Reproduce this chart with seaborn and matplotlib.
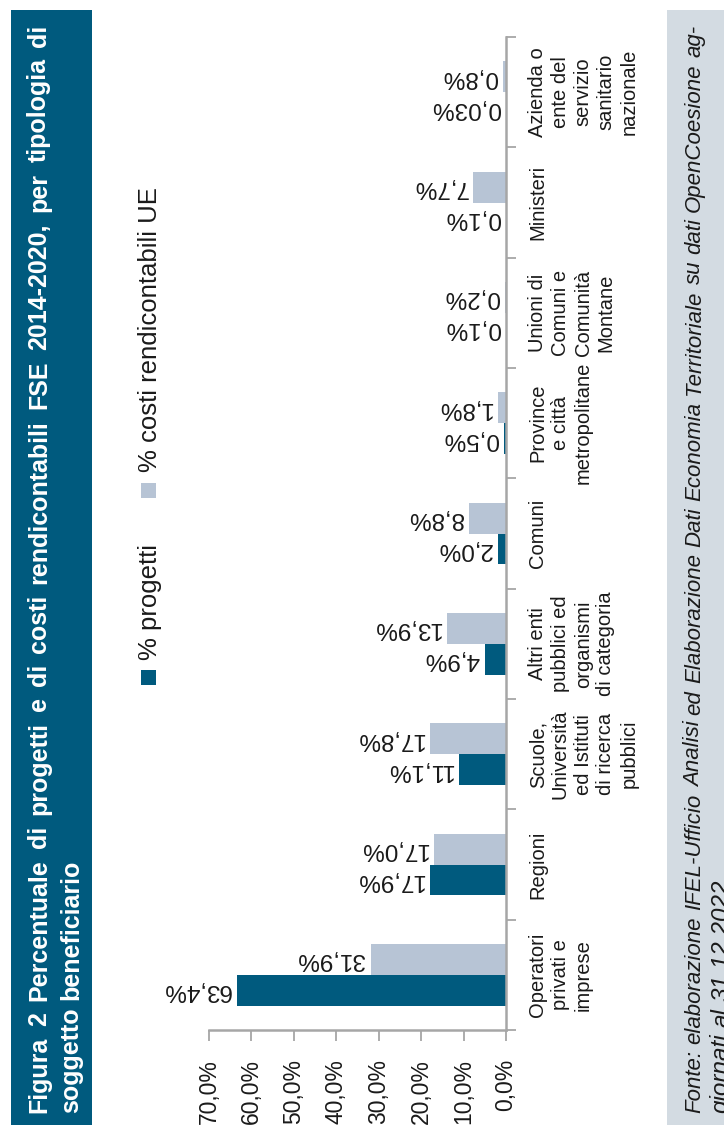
import matplotlib
matplotlib.use("Agg")
import matplotlib.pyplot as plt
import seaborn as sns
import pandas as pd
import numpy as np
from matplotlib.patches import Rectangle

# ---------------- data ----------------
categories = [
    "Operatori\nprivati e\nimprese",
    "Regioni",
    "Scuole,\nUniversità\ned Istituti\ndi ricerca\npubblici",
    "Altri enti\npubblici ed\norganismi\ndi categoria",
    "Comuni",
    "Province\ne città\nmetropolitane",
    "Unioni di\nComuni e\nComunità\nMontane",
    "Ministeri",
    "Azienda o\nente del\nservizio\nsanitario\nnazionale",
]
progetti = [63.4, 17.9, 11.1, 4.9, 2.0, 0.5, 0.1, 0.1, 0.03]
costi = [31.9, 17.0, 17.8, 13.9, 8.8, 1.8, 0.2, 7.7, 0.8]
progetti_labels = ["63,4%", "17,9%", "11,1%", "4,9%", "2,0%", "0,5%", "0,1%", "0,1%", "0,03%"]
costi_labels = ["31,9%", "17,0%", "17,8%", "13,9%", "8,8%", "1,8%", "0,2%", "7,7%", "0,8%"]
series_names = ["% progetti", "% costi rendicontabili UE"]
value_ticks = [0, 10, 20, 30, 40, 50, 60, 70]
value_tick_labels = ["0,0%", "10,0%", "20,0%", "30,0%", "40,0%", "50,0%", "60,0%", "70,0%"]

title_line1 = "Figura 2 Percentuale di progetti e di costi rendicontabili FSE 2014-2020, per tipologia di"
title_line2 = "soggetto beneficiario"
source_line1 = "Fonte: elaborazione IFEL-Ufficio Analisi ed Elaborazione Dati Economia Territoriale su dati OpenCoesione ag-"
source_line2 = "giornati al 31.12.2022"

# ---------------- style ----------------
DARK = "#005a7e"
LIGHT = "#b7c4d5"
FOOT_BG = "#d3dbe2"
GREY = "#a6a6a6"

sns.set_style("white")
plt.rcParams["font.family"] = ["Liberation Sans", "DejaVu Sans"]

W, H = 724, 1125
fig = plt.figure(figsize=(W / 100, H / 100), dpi=100)

def fx(px):
    return px / W

def fy(py):
    return 1 - py / H

# background strips
fig.patches.append(Rectangle((fx(11), 0), fx(92) - fx(11), fy(10), transform=fig.transFigure,
                             facecolor=DARK, edgecolor="none", zorder=0))
fig.patches.append(Rectangle((fx(667), 0), 1 - fx(667), fy(10), transform=fig.transFigure,
                             facecolor=FOOT_BG, edgecolor="none", zorder=0))

# ---------------- chart ----------------
ax = fig.add_axes([fx(209), fy(1030), fx(506) - fx(209), fy(37) - fy(1030)])

df = pd.DataFrame({
    "categoria": categories * 2,
    "valore": progetti + costi,
    "serie": [series_names[0]] * len(categories) + [series_names[1]] * len(categories),
})

sns.barplot(data=df, x="valore", y="categoria", hue="serie", hue_order=series_names,
            order=categories, palette=[DARK, LIGHT], orient="h", width=0.56, gap=0,
            errorbar=None, legend=False, ax=ax, saturation=1, linewidth=0)

ax.set_xlim(70, 0)
ax.set_ylim(-0.5, len(categories) - 0.5)
ax.set_xlabel("")
ax.set_ylabel("")

# spines
for s in ["top", "left"]:
    ax.spines[s].set_visible(False)
for s in ["right", "bottom"]:
    ax.spines[s].set_visible(True)
    ax.spines[s].set_color(GREY)
    ax.spines[s].set_linewidth(1.8)

# value axis
ax.set_xticks(value_ticks)
ax.set_xticklabels(value_tick_labels)
ax.tick_params(axis="x", direction="out", length=8, width=1.3, color=GREY, pad=13,
               labelrotation=90, labelsize=16.5, bottom=True, labelcolor="#1a1a1a")

# category axis
ax.set_yticks(range(len(categories)))
ax.set_yticklabels(categories)
ax.set_yticks(np.arange(-0.5, len(categories), 1), minor=True)
ax.tick_params(axis="y", which="major", left=False, right=True, length=0,
               labelleft=False, labelright=True, labelrotation=90, labelsize=14.5, pad=16,
               labelcolor="#1a1a1a")
ax.tick_params(axis="y", which="minor", left=False, right=True, length=7, width=1.3,
               color=GREY, direction="out")
for lbl in ax.get_yticklabels():
    lbl.set_ha("left")
    lbl.set_va("center")
    lbl.set_multialignment("center")
    lbl.set_linespacing(1.25)
ax.grid(False)

# data labels
for container, labels in zip(ax.containers, [progetti_labels, costi_labels]):
    for patch, lab in zip(container.patches, labels):
        val = patch.get_width()
        yc = patch.get_y() + patch.get_height() / 2
        ax.annotate(lab, (val, yc), xytext=(-6, 0), textcoords="offset pixels",
                    ha="right", va="center", rotation=180, fontsize=17.5, color="#1a1a1a")

# ---------------- legend (rotated) ----------------
leg_items = [(series_names[0], DARK, 670, 660), (series_names[1], LIGHT, 483, 472)]
for name, col, sq_top, txt_start in leg_items:
    fig.patches.append(Rectangle((fx(141), fy(sq_top + 15)), fx(15), 15 / H,
                                 transform=fig.transFigure, facecolor=col, edgecolor="none"))
    fig.text(fx(157), fy(txt_start), name, rotation=90, rotation_mode="anchor",
             ha="left", va="baseline", fontsize=18.5, color="#1a1a1a")

# ---------------- title and source (justified) ----------------
fig.canvas.draw()
renderer = fig.canvas.get_renderer()

def measure(s, **kw):
    t = fig.text(0, 0, s, **kw)
    w = t.get_window_extent(renderer).width
    t.remove()
    return w

def place_line(text, x_base, y_start, y_end=None, **kw):
    words = text.split(" ")
    size = kw.pop("fontsize")
    while True:
        widths = [measure(w, fontsize=size, **kw) for w in words]
        sp_w = measure("a a", fontsize=size, **kw) - measure("aa", fontsize=size, **kw)
        if y_end is None or sum(widths) + sp_w * (len(words) - 1) <= (y_start - y_end):
            break
        size -= 0.25
    if y_end is None or len(words) < 2:
        gap = sp_w
    else:
        gap = (y_start - y_end - sum(widths)) / (len(words) - 1)
    pos = y_start
    for w, wd in zip(words, widths):
        fig.text(fx(x_base), fy(pos), w, rotation=90, rotation_mode="anchor",
                 ha="left", va="baseline", fontsize=size, **kw)
        pos -= wd + gap

title_kw = dict(fontsize=18, fontweight="bold", color="white")
place_line(title_line1, 46, 1113, 25, **title_kw)
place_line(title_line2, 78, 1113, None, **title_kw)

src_kw = dict(fontsize=17.5, fontstyle="italic", color="#1a1a1a")
place_line(source_line1, 700, 1113, 25, **src_kw)
place_line(source_line2, 728, 1113, None, **src_kw)

fig.savefig("out.png", dpi=100)
